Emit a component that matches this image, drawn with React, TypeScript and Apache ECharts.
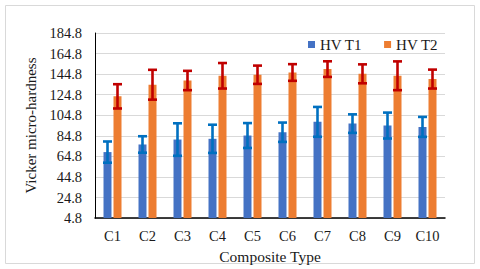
import React, { useEffect, useRef } from "react";
import * as echarts from "echarts";

const categories = ["C1", "C2", "C3", "C4", "C5", "C6", "C7", "C8", "C9", "C10"];
const hvT1 = [69.0, 76.4, 81.2, 81.9, 85.1, 88.3, 98.4, 96.7, 94.8, 93.5];
const hvT1Err = [10.3, 8.0, 15.8, 13.7, 12.1, 9.4, 14.5, 9.0, 12.6, 9.7];
const hvT2 = [123.2, 134.5, 138.6, 143.2, 144.2, 146.4, 149.7, 145.1, 143.2, 140.0];
const hvT2Err = [11.8, 14.5, 9.4, 12.4, 8.9, 8.1, 7.6, 9.2, 14.0, 9.2];
const yMin = 4.8;
const yMax = 184.8;
const yStep = 20;

const FONT = "'Liberation Serif', 'Times New Roman', serif";

function errorSeries(name: string, vals: number[], errs: number[], offset: number, color: string) {
  return {
    type: "custom",
    name,
    z: 5,
    data: vals.map((v, i) => [i, v, errs[i]]),
    renderItem: (_params: any, api: any) => {
      const i = api.value(0);
      const v = api.value(1);
      const e = api.value(2);
      const hi = api.coord([i, v + e]);
      const lo = api.coord([i, v - e]);
      const x = hi[0] + offset;
      const hw = 4.5;
      const style = { stroke: color, lineWidth: 2.6 };
      return {
        type: "group",
        children: [
          { type: "line", shape: { x1: x, y1: hi[1], x2: x, y2: lo[1] }, style },
          { type: "line", shape: { x1: x - hw, y1: hi[1], x2: x + hw, y2: hi[1] }, style },
          { type: "line", shape: { x1: x - hw, y1: lo[1], x2: x + hw, y2: lo[1] }, style },
        ],
      };
    },
  };
}

export default function App() {
  const ref = useRef<HTMLDivElement>(null);
  useEffect(() => {
    if (!ref.current) return;
    const chart = echarts.init(ref.current, null, { renderer: "svg" });
    chart.setOption({
      animation: false,
      backgroundColor: "#ffffff",
      textStyle: { fontFamily: FONT },
      graphic: [
        {
          type: "rect",
          shape: { x: 5.5, y: 5.5, width: 469, height: 258 },
          style: { fill: "none", stroke: "#d9d9d9", lineWidth: 1 },
          silent: true,
        },
      ],
      legend: {
        data: ["HV T1", "HV T2"],
        left: 303,
        top: 32,
        itemWidth: 7,
        itemHeight: 7,
        itemGap: 22,
        icon: "rect",
        textStyle: { fontFamily: FONT, fontSize: 15, color: "#1a1a1a" },
      },
      grid: { left: 95, right: 35, top: 33, bottom: 50 },
      xAxis: {
        type: "category",
        data: categories,
        name: "Composite Type",
        nameLocation: "middle",
        nameGap: 27,
        nameTextStyle: { fontFamily: FONT, fontSize: 15.5, color: "#1a1a1a" },
        axisLine: { lineStyle: { color: "#000", width: 1.5 } },
        axisTick: { show: false },
        axisLabel: { fontFamily: FONT, fontSize: 14.5, color: "#1a1a1a", margin: 10 },
      },
      yAxis: {
        type: "value",
        min: yMin,
        max: yMax,
        interval: yStep,
        name: "Vicker micro-hardness",
        nameLocation: "middle",
        nameGap: 56,
        nameTextStyle: { fontFamily: FONT, fontSize: 15, color: "#1a1a1a" },
        axisLine: { show: true, lineStyle: { color: "#000", width: 1 } },
        axisTick: { show: false },
        axisLabel: {
          fontFamily: FONT,
          fontSize: 14.5,
          color: "#1a1a1a",
          margin: 13,
          formatter: (v: number) => v.toFixed(1),
        },
        splitLine: { lineStyle: { color: "#d9d9d9", width: 1 } },
      },
      series: [
        {
          type: "bar",
          name: "HV T1",
          data: hvT1,
          barWidth: 8,
          barGap: "25%",
          itemStyle: { color: "#4472C4" },
        },
        {
          type: "bar",
          name: "HV T2",
          data: hvT2,
          barWidth: 8,
          barGap: "25%",
          itemStyle: { color: "#ED7D31" },
        },
        errorSeries("T1 error", hvT1, hvT1Err, -5, "#0070C0"),
        errorSeries("T2 error", hvT2, hvT2Err, 5, "#C00000"),
      ],
    });
    return () => chart.dispose();
  }, []);
  return (
    <div
      ref={ref}
      style={{ position: "fixed", left: 0, top: 0, width: 480, height: 269 }}
    />
  );
}
